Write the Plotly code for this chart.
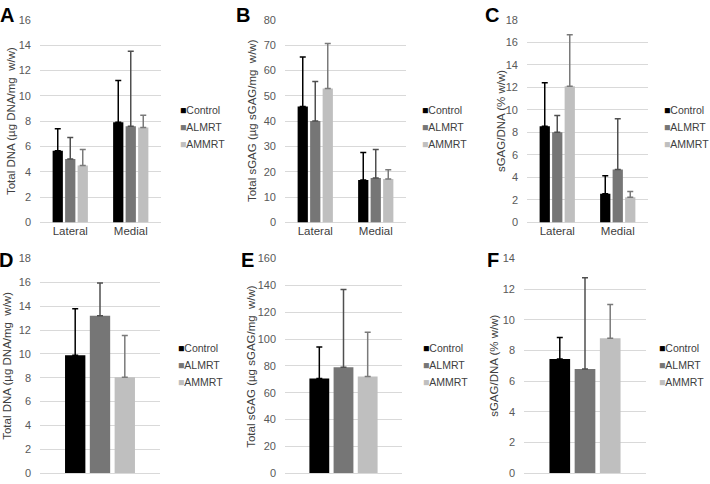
import plotly.graph_objects as go

# ---------------- data ----------------
series = ["Control", "ALMRT", "AMMRT"]
bar_colors = ["#000000", "#767676", "#bfbfbf"]
err_colors = ["#000000", "#4f4f4f", "#7a7a7a"]

regions = ["Lateral", "Medial"]
overall = ["All"]

# A: Total DNA (µg DNA/mg w/w) by region
a_means = {"Control": [5.65, 7.9], "ALMRT": [5.0, 7.6], "AMMRT": [4.5, 7.5]}
a_sd = {"Control": [1.75, 3.3], "ALMRT": [1.7, 5.9], "AMMRT": [1.25, 0.95]}

# B: Total sGAG (µg sGAG/mg w/w) by region
b_means = {"Control": [45.7, 16.8], "ALMRT": [40.0, 17.5], "AMMRT": [52.8, 17.2]}
b_sd = {"Control": [19.6, 10.8], "ALMRT": [15.6, 11.3], "AMMRT": [17.8, 3.6]}

# C: sGAG/DNA (% w/w) by region
c_means = {"Control": [8.55, 2.55], "ALMRT": [8.0, 4.7], "AMMRT": [12.1, 2.25]}
c_sd = {"Control": [3.85, 1.6], "ALMRT": [1.5, 4.5], "AMMRT": [4.55, 0.5]}

# D: Total DNA overall
d_means = {"Control": [9.9], "ALMRT": [13.2], "AMMRT": [8.05]}
d_sd = {"Control": [3.9], "ALMRT": [2.75], "AMMRT": [3.5]}

# E: Total sGAG overall
e_means = {"Control": [70.5], "ALMRT": [79.0], "AMMRT": [72.0]}
e_sd = {"Control": [23.5], "ALMRT": [58.0], "AMMRT": [33.0]}

# F: sGAG/DNA overall
f_means = {"Control": [7.45], "ALMRT": [6.8], "AMMRT": [8.8]}
f_sd = {"Control": [1.4], "ALMRT": [5.95], "AMMRT": [2.2]}

y_titles = ["Total DNA (µg DNA/mg  w/w)", "Total sGAG (µg sGAG/mg  w/w)", "sGAG/DNA (% w/w)",
            "Total DNA (µg DNA/mg  w/w)", "Total sGAG (µg sGAG/mg  w/w)", "sGAG/DNA (% w/w)"]
y_max = [16, 80, 18, 18, 160, 14]
y_step = [2, 10, 2, 2, 20, 2]
letters = ["A", "B", "C", "D", "E", "F"]

# ---------------- layout geometry (pixels) ----------------
W, H = 710, 484
panels = [
    dict(data=(a_means, a_sd), cats=regions, x=(40, 161), y=(14, 222), title_x=11, letter=(7, 9), legend=(178, 107)),
    dict(data=(b_means, b_sd), cats=regions, x=(285, 406), y=(14, 222), title_x=252, letter=(243, 9), legend=(420, 107)),
    dict(data=(c_means, c_sd), cats=regions, x=(527, 648), y=(14, 222), title_x=501, letter=(492, 9), legend=(662, 107)),
    dict(data=(d_means, d_sd), cats=overall, x=(40, 160), y=(259, 479), title_x=7, letter=(6, 260), legend=(176, 351)),
    dict(data=(e_means, e_sd), cats=overall, x=(285, 402), y=(259, 479), title_x=251, letter=(247, 260), legend=(421, 351)),
    dict(data=(f_means, f_sd), cats=overall, x=(524, 646), y=(259, 479), title_x=494, letter=(493, 260), legend=(657, 351)),
]

def px_x(v):
    return v / W

def px_y(v):
    return 1 - v / H

fig = go.Figure()
annotations = []
FONT = "Arial, Liberation Sans, sans-serif"

for i, p in enumerate(panels):
    k = "" if i == 0 else str(i + 1)
    means, sds = p["data"]
    for s, bc, ec in zip(series, bar_colors, err_colors):
        fig.add_trace(go.Bar(
            x=p["cats"], y=means[s], name=s,
            marker=dict(color=bc, line=dict(width=0)),
            error_y=dict(type="data", array=sds[s], arrayminus=[0] * len(sds[s]),
                         symmetric=False, color=ec, thickness=1.5, width=3),
            xaxis="x" + k, yaxis="y" + k, showlegend=False,
        ))
    fig.layout["xaxis" + k] = dict(
        domain=[px_x(p["x"][0]), px_x(p["x"][1])], anchor="y" + k,
        showticklabels=(p["cats"] is regions), ticks="", showline=False, showgrid=False,
        tickfont=dict(family=FONT, size=11.5, color="#404040"), fixedrange=True,
    )
    fig.layout["yaxis" + k] = dict(
        domain=[px_y(p["y"][1]), px_y(p["y"][0])], anchor="x" + k,
        range=[0, y_max[i]], dtick=y_step[i], tick0=0,
        showgrid=True, gridcolor="#d9d9d9", gridwidth=1, zeroline=True, zerolinecolor="#d9d9d9",
        zerolinewidth=1, showline=False, ticks="", ticklabelstandoff=8,
        tickfont=dict(family=FONT, size=11, color="#595959"),
    )
    # y-axis title
    annotations.append(dict(
        text=y_titles[i], textangle=-90, xref="paper", yref="paper",
        x=px_x(p["title_x"]), y=px_y((p["y"][0] + p["y"][1]) / 2),
        xanchor="center", yanchor="middle", showarrow=False,
        font=dict(family=FONT, size=11.5, color="#404040"),
    ))
    # panel letter
    annotations.append(dict(
        text="<b>" + letters[i] + "</b>", xref="paper", yref="paper",
        x=px_x(p["letter"][0]), y=px_y(p["letter"][1]),
        xanchor="center", yanchor="middle", showarrow=False,
        font=dict(family=FONT, size=20, color="#000000"),
    ))
    # legend entries
    lx, ly = p["legend"]
    for j, (s, bc) in enumerate(zip(series, bar_colors)):
        annotations.append(dict(
            text="<span style='color:%s'>■</span>%s" % (bc, s), xref="paper", yref="paper",
            x=px_x(lx), y=px_y(ly + j * 17.5), xanchor="left", yanchor="middle",
            showarrow=False, font=dict(family=FONT, size=10.5, color="#404040"),
        ))

fig.update_layout(
    width=W, height=H, margin=dict(l=0, r=0, t=0, b=0),
    paper_bgcolor="white", plot_bgcolor="white",
    barmode="group", bargap=0.38, bargroupgap=0.18,
    annotations=annotations, showlegend=False,
)

fig.write_html("out.html", config={"displayModeBar": False, "staticPlot": True},
               post_script="document.body.style.margin='0';document.body.style.overflow='hidden';")
